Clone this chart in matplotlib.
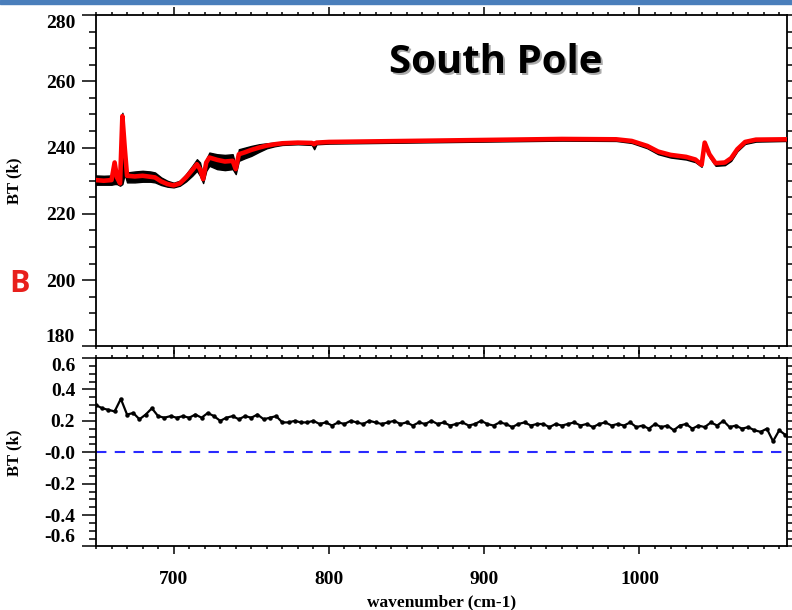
import matplotlib.pyplot as plt
import numpy as np
from matplotlib.ticker import MultipleLocator, FuncFormatter
from matplotlib.patches import Rectangle

# top panel: brightness temperature spectrum (K)
wn_top = [650, 655, 660, 662, 663.5, 665.5, 667, 668.5, 670, 675, 680, 685, 688,
          692, 696, 700, 704, 708, 712, 715, 717, 719, 721, 723, 728, 733, 738,
          740, 742, 746, 750, 755, 760, 765, 770, 780, 789, 790.5, 792, 800, 850,
          900, 950, 985, 995, 1005, 1012, 1020, 1030, 1036, 1040, 1042, 1045,
          1049, 1055, 1059, 1063, 1068, 1075, 1095]
bt_calc = [230.2, 230.0, 230.2, 235.5, 231.0, 229.2, 249.5, 240.0, 231.5, 231.3,
           231.5, 231.2, 231.0, 229.8, 229.0, 228.6, 229.2, 231.0, 233.2, 235.0,
           233.5, 230.5, 235.5, 237.0, 236.3, 235.8, 236.0, 233.5, 238.0, 238.6,
           239.3, 240.0, 240.6, 241.0, 241.3, 241.5, 241.4, 241.0, 241.5, 241.7,
           242.0, 242.3, 242.6, 242.5, 242.0, 240.5, 238.8, 237.8, 237.2, 236.4,
           234.8, 241.5, 238.0, 235.3, 235.5, 236.8, 239.5, 241.7, 242.4, 242.5]
bt_obs_lo = [228.8, 228.8, 228.8, 229.0, 229.0, 228.5, 229.0, 232.0, 229.5, 229.5,
             229.7, 229.7, 229.5, 228.7, 228.2, 228.0, 228.5, 229.8, 231.5, 233.0,
             231.5, 229.3, 233.0, 234.5, 233.5, 233.2, 233.5, 232.0, 236.0, 236.8,
             237.5, 238.7, 239.8, 240.4, 240.8, 241.0, 240.8, 239.5, 241.0, 241.2,
             241.5, 241.8, 242.1, 242.0, 241.4, 239.8, 238.0, 237.0, 236.4, 235.6,
             234.2, 241.0, 237.2, 234.5, 234.7, 236.0, 238.9, 241.1, 241.8, 242.0]
bt_obs_hi = [231.6, 231.5, 231.6, 236.0, 232.0, 231.0, 250.5, 241.0, 232.5, 232.8,
             233.0, 232.8, 232.5, 231.0, 230.0, 229.4, 230.0, 232.0, 234.5, 236.5,
             235.5, 231.5, 236.5, 238.5, 238.0, 237.8, 238.0, 234.5, 239.5, 240.0,
             240.5, 241.0, 241.3, 241.5, 241.7, 241.8, 241.7, 241.3, 241.8, 242.0,
             242.3, 242.6, 242.9, 242.8, 242.3, 240.8, 239.1, 238.1, 237.5, 236.7,
             235.1, 241.9, 238.3, 235.6, 235.8, 237.1, 239.8, 242.0, 242.7, 242.8]

# bottom panel: obs - calc difference (K)
wn_diff = np.arange(650, 1095, 4)
bt_diff = [0.30, 0.28, 0.27, 0.26, 0.34, 0.24, 0.25, 0.21, 0.24, 0.28,
           0.23, 0.22, 0.23, 0.22, 0.23, 0.22, 0.24, 0.22, 0.25, 0.23,
           0.20, 0.22, 0.23, 0.21, 0.23, 0.22, 0.24, 0.21, 0.22, 0.23,
           0.19, 0.19, 0.20, 0.19, 0.19, 0.20, 0.18, 0.19, 0.17, 0.19,
           0.18, 0.20, 0.19, 0.18, 0.20, 0.19, 0.18, 0.19, 0.20, 0.18,
           0.19, 0.17, 0.19, 0.18, 0.20, 0.18, 0.19, 0.17, 0.18, 0.19,
           0.17, 0.18, 0.20, 0.18, 0.17, 0.19, 0.18, 0.16, 0.18, 0.19,
           0.17, 0.18, 0.18, 0.16, 0.18, 0.17, 0.18, 0.19, 0.17, 0.18,
           0.16, 0.18, 0.19, 0.17, 0.18, 0.17, 0.19, 0.16, 0.17, 0.15,
           0.18, 0.16, 0.17, 0.14, 0.17, 0.18, 0.15, 0.17, 0.16, 0.19,
           0.17, 0.20, 0.16, 0.17, 0.15, 0.16, 0.14, 0.13, 0.15, 0.07,
           0.14, 0.11]

plt.rcParams['font.family'] = 'Liberation Serif'
plt.rcParams['font.weight'] = 'bold'

fig = plt.figure(figsize=(7.92, 6.10), dpi=100)
ax1 = fig.add_axes([0.1212, 0.432, 0.8725, 0.5434])
ax2 = fig.add_axes([0.1212, 0.1041, 0.8725, 0.309])


def style_axis(ax):
    for s in ax.spines.values():
        s.set_linewidth(1.3)
    ax.xaxis.set_major_locator(MultipleLocator(100))
    ax.xaxis.set_minor_locator(MultipleLocator(10))
    ax.tick_params(axis='both', which='both', direction='out', top=True, right=True,
                   labelsize=14, width=1.1)
    ax.tick_params(axis='x', which='major', length=6, pad=12)
    ax.tick_params(axis='x', which='minor', length=2.5)
    ax.tick_params(axis='y', which='major', length=10, pad=5)
    ax.tick_params(axis='y', which='minor', length=5)
    ax.set_xlim(650, 1095)
    ax.yaxis.set_label_coords(-0.107, 0.5)


style_axis(ax1)
ax1.fill_between(wn_top, bt_obs_lo, bt_obs_hi, color='black', lw=1.0, zorder=2)
ax1.plot(wn_top, bt_calc, color='#ff0000', lw=3.3, zorder=3)
ax1.set_ylim(180, 280)
ax1.yaxis.set_major_locator(MultipleLocator(20))
ax1.yaxis.set_minor_locator(MultipleLocator(5))
ax1.tick_params(axis='x', labelbottom=False)
ax1.set_ylabel('BT (k)', fontsize=12, fontweight='bold')

style_axis(ax2)
ax2.plot(wn_diff, bt_diff, color='black', lw=1.6, marker='o', markersize=2.2, zorder=3)
ax2.axhline(0.0, color='#2a2aff', lw=1.5, linestyle=(0, (5, 4)), zorder=2)
ax2.set_ylim(-0.6, 0.6)
ax2.yaxis.set_major_locator(MultipleLocator(0.2))
ax2.yaxis.set_minor_locator(MultipleLocator(0.05))
ax2.yaxis.set_major_formatter(FuncFormatter(lambda v, p: '-0.0' if abs(v) < 1e-9 else '%.1f' % v))
ax2.set_ylabel('BT (k)', fontsize=12, fontweight='bold')
ax2.set_xlabel('wavenumber (cm-1)', fontsize=12.5, fontweight='bold', labelpad=4)

# slide decorations
fig.text(0.555, 1 - 8 / 610, 'South', ha='center', va='bottom', fontsize=13,
         family='Liberation Sans', fontweight='bold', color='#333333')
fig.patches.append(Rectangle((0, 1 - 4 / 610), 1, 4 / 610, transform=fig.transFigure,
                             color='#4a7ebb', zorder=5))
for dx, col in [(0.003, '#aaaaaa'), (0, 'black')]:
    fig.text(0.626 + dx, 0.898 - dx, 'South Pole', ha='center', va='center', fontsize=29,
             family='Open Sans', fontweight='bold', color=col)
fig.text(0.024, 0.535, 'B', ha='center', va='center', fontsize=22,
         family='Open Sans', fontweight='bold', color='#e8201c')

# end labels sit inside the axis range, as in the original plot
fig.canvas.draw()
for ax in (ax1, ax2):
    lo, hi = ax.get_ylim()
    for t in ax.yaxis.get_major_ticks():
        if abs(t.get_loc() - lo) < 1e-6:
            t.label1.set_va('bottom')
        elif abs(t.get_loc() - hi) < 1e-6:
            t.label1.set_va('top')

fig.savefig('out.png', dpi=100)
